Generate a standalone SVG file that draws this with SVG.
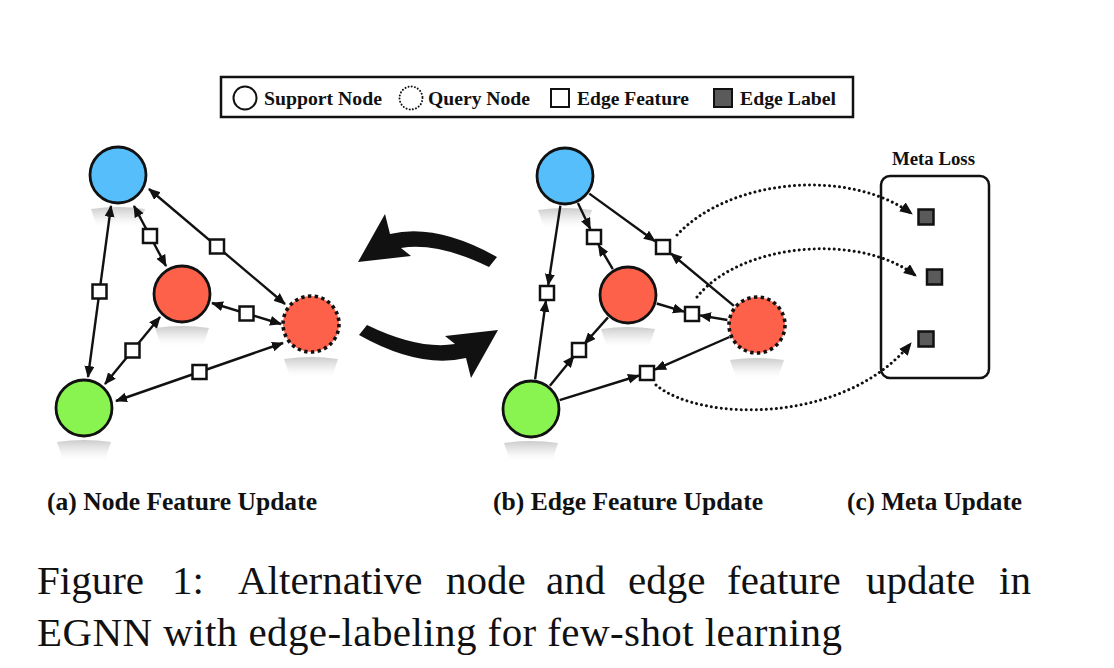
<svg xmlns="http://www.w3.org/2000/svg" width="1114" height="668" viewBox="0 0 1114 668">
<style>
.lbl{font-family:"Liberation Serif","Times New Roman",serif;font-weight:bold;fill:#111}
.cap{font-family:"Liberation Serif","Times New Roman",serif;fill:#111;font-size:41px}
.edge{stroke:#111;stroke-width:2.4;fill:none}
.dbl{marker-start:url(#ah);marker-end:url(#ah)}
.one{marker-end:url(#ah)}
.dot{stroke:#111;stroke-width:3;fill:none;stroke-dasharray:0.01 5;stroke-linecap:round;marker-end:url(#ah2)}
.sq{fill:#fff;stroke:#111;stroke-width:2.5}
.lab{fill:#5a5a5a;stroke:#111;stroke-width:2.5}
.node{stroke:#111;stroke-width:2.8}
.qnode{stroke:#111;stroke-width:3.6;stroke-dasharray:3.4 3.37}
.blue{fill:#56BEFB}
.red{fill:#FE614A}
.green{fill:#89F34F}
.shadow{fill:url(#sh)}
</style>
<defs>
<marker id="ah" markerUnits="userSpaceOnUse" markerWidth="13" markerHeight="11" refX="11" refY="5" orient="auto-start-reverse">
<path d="M0,0 L12,5 L0,10 z" fill="#111"/>
</marker>
<marker id="ah2" markerUnits="userSpaceOnUse" markerWidth="14" markerHeight="12" refX="12" refY="5.5" orient="auto">
<path d="M0,0 L13,5.5 L0,11 z" fill="#111"/>
</marker>
<linearGradient id="sh" x1="0" y1="0" x2="0" y2="1">
<stop offset="0" stop-color="#b4b4b4" stop-opacity="0.7"/>
<stop offset="0.45" stop-color="#d4d4d4" stop-opacity="0.45"/>
<stop offset="1" stop-color="#ffffff" stop-opacity="0"/>
</linearGradient>
<path id="shp" d="M-27,0 Q0,-4 27,0 L21,18 Q0,22 -21,18 Z"/>
</defs>
<rect width="1114" height="668" fill="#fff"/>

<g id="legend">
<rect x="221" y="77" width="632" height="40" fill="#fff" stroke="#111" stroke-width="2.5"/>
<circle cx="245" cy="98" r="11.5" fill="#fff" stroke="#111" stroke-width="2"/>
<text class="lbl" x="264" y="105" font-size="19.5" textLength="118" lengthAdjust="spacingAndGlyphs">Support Node</text>
<circle cx="411" cy="98" r="11.5" fill="#fff" stroke="#111" stroke-width="2" stroke-dasharray="0.01 3.2" stroke-linecap="round"/>
<text class="lbl" x="428" y="105" font-size="19.5" textLength="102" lengthAdjust="spacingAndGlyphs">Query Node</text>
<rect x="551" y="89" width="18" height="18" fill="#fff" stroke="#111" stroke-width="2"/>
<text class="lbl" x="577" y="105" font-size="19.5" textLength="112" lengthAdjust="spacingAndGlyphs">Edge Feature</text>
<rect x="714" y="89" width="18" height="18" fill="#5a5a5a" stroke="#111" stroke-width="2"/>
<text class="lbl" x="740" y="105" font-size="19.5" textLength="96" lengthAdjust="spacingAndGlyphs">Edge Label</text>
</g>

<g id="shadows" class="shadow">
<use href="#shp" transform="translate(118,209)"/>
<use href="#shp" transform="translate(182,328)"/>
<use href="#shp" transform="translate(311,359)"/>
<use href="#shp" transform="translate(84,442)"/>
<use href="#shp" transform="translate(565,210)"/>
<use href="#shp" transform="translate(628,329)"/>
<use href="#shp" transform="translate(757,360)"/>
<use href="#shp" transform="translate(531,443)"/>
</g>

<g id="connectors">
<line class="edge dbl" x1="134" y1="206" x2="166" y2="266"/>
<line class="edge dbl" x1="149" y1="189" x2="285" y2="304"/>
<line class="edge dbl" x1="111" y1="206" x2="88" y2="377"/>
<line class="edge dbl" x1="212" y1="303" x2="281" y2="324"/>
<line class="edge dbl" x1="160" y1="317" x2="105" y2="384"/>
<line class="edge dbl" x1="116" y1="401" x2="283" y2="343"/>
<line class="edge one" x1="577.9" y1="203.1" x2="590.3" y2="229"/>
<line class="edge one" x1="612.8" y1="269.1" x2="598.5" y2="245"/>
<line class="edge one" x1="589.3" y1="193.6" x2="655" y2="241.2"/>
<line class="edge one" x1="733.9" y1="305.8" x2="671" y2="253.5"/>
<line class="edge one" x1="560.4" y1="205.6" x2="548.2" y2="285"/>
<line class="edge one" x1="535.1" y1="379.3" x2="545.9" y2="301"/>
<line class="edge one" x1="656.7" y1="303.5" x2="684" y2="311.6"/>
<line class="edge one" x1="727.4" y1="320" x2="700" y2="315.4"/>
<line class="edge one" x1="608" y1="317.4" x2="584.5" y2="343.8"/>
<line class="edge one" x1="549.9" y1="385.8" x2="573.9" y2="356.2"/>
<line class="edge one" x1="559.6" y1="400.1" x2="639" y2="375.5"/>
<line class="edge one" x1="729.5" y1="337" x2="655" y2="369.6"/>
<path class="dot" d="M677,235 C730,178 850,168 912,214"/>
<path class="dot" d="M697,297 C740,243 860,232 916,276"/>
<path class="dot" d="M656,385 C700,422 845,425 911,343"/>
<path id="swapB" d="M367,325 Q418.5,350 455,344 L445,336 L498,330 L471,378 L466,358 Q419.5,369 359,335 Z" fill="#111"/>
<path id="swapT" d="M367,325 Q418.5,350 455,344 L445,336 L498,330 L471,378 L466,358 Q419.5,369 359,335 Z" fill="#111" transform="rotate(180 428 296)"/>
</g>

<g id="edge-features-a">
<rect class="sq" x="143" y="229" width="14" height="14"/>
<rect class="sq" x="210" y="239.5" width="14" height="14"/>
<rect class="sq" x="92.5" y="284.5" width="14" height="14"/>
<rect class="sq" x="239.5" y="306.5" width="14" height="14"/>
<rect class="sq" x="125.5" y="343.5" width="14" height="14"/>
<rect class="sq" x="192.5" y="365" width="14" height="14"/>
</g>
<g id="edge-features-b">
<rect class="sq" x="587" y="230" width="14" height="14"/>
<rect class="sq" x="656" y="240" width="14" height="14"/>
<rect class="sq" x="540" y="286" width="14" height="14"/>
<rect class="sq" x="685" y="307" width="14" height="14"/>
<rect class="sq" x="572" y="343" width="14" height="14"/>
<rect class="sq" x="640" y="366" width="14" height="14"/>
</g>

<g id="a-support-blue"><circle class="node blue" cx="118" cy="175" r="28"/></g>
<g id="a-support-red"><circle class="node red" cx="182" cy="294" r="28"/></g>
<g id="a-query"><circle class="qnode red" cx="311" cy="324" r="28"/></g>
<g id="a-support-green"><circle class="node green" cx="84" cy="408" r="28"/></g>

<g id="b-support-blue"><circle class="node blue" cx="565" cy="176" r="28"/></g>
<g id="b-support-red"><circle class="node red" cx="628" cy="295" r="28"/></g>
<g id="b-query"><circle class="qnode red" cx="757" cy="325" r="28"/></g>
<g id="b-support-green"><circle class="node green" cx="531" cy="409" r="28"/></g>

<g id="meta-loss">
<rect x="881" y="176" width="108" height="202" rx="9" ry="9" fill="none" stroke="#111" stroke-width="2.5"/>
<text class="lbl" x="892" y="165" font-size="18" textLength="83" lengthAdjust="spacingAndGlyphs">Meta Loss</text>
<rect class="lab" x="918.5" y="209.5" width="15" height="15"/>
<rect class="lab" x="927" y="269.5" width="15" height="15"/>
<rect class="lab" x="918.5" y="331.5" width="15" height="15"/>
</g>

<g id="captions">
<text class="lbl" x="47" y="510" font-size="25" textLength="270" lengthAdjust="spacingAndGlyphs">(a) Node Feature Update</text>
<text class="lbl" x="493" y="510" font-size="25" textLength="270" lengthAdjust="spacingAndGlyphs">(b) Edge Feature Update</text>
<text class="lbl" x="847" y="510" font-size="25" textLength="175" lengthAdjust="spacingAndGlyphs">(c) Meta Update</text>
<text class="cap" y="594"><tspan x="37">Figure</tspan><tspan x="172">1:</tspan><tspan x="238">Alternative</tspan><tspan x="446">node</tspan><tspan x="546">and</tspan><tspan x="628">edge</tspan><tspan x="727">feature</tspan><tspan x="866">update</tspan><tspan x="999">in</tspan></text>
<text class="cap" x="37" y="646" textLength="805" lengthAdjust="spacing">EGNN with edge-labeling for few-shot learning</text>
</g>
</svg>
